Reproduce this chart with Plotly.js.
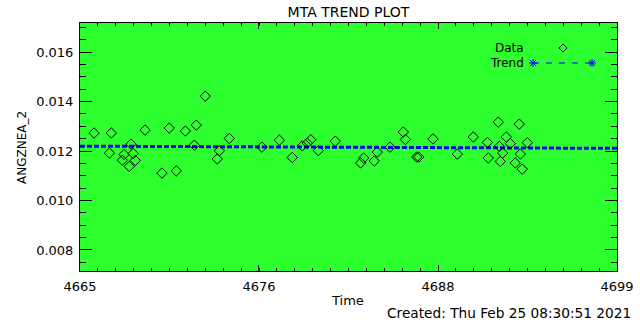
<!DOCTYPE html>
<html>
<head>
<meta charset="utf-8">
<script src="https://cdn.plot.ly/plotly-3.0.1.min.js"></script>
<style>
html,body{margin:0;padding:0;background:#fff;}
#chart{width:640px;height:320px;}
</style>
</head>
<body>
<div id="chart"></div>
<script>
// ---- data ----
const dataX = [4665.89, 4666.98, 4666.86, 4667.79, 4667.68, 4668.23, 4668.37, 4668.50, 4668.12, 4669.12,
  4670.19, 4670.65, 4671.10, 4671.67, 4672.36, 4672.93, 4672.24, 4673.82, 4673.69, 4674.45,
  4676.52, 4677.62, 4678.44, 4679.07, 4679.39, 4679.61, 4680.09, 4681.16, 4682.77, 4682.96,
  4683.63, 4683.82, 4684.63, 4685.47, 4685.60, 4686.32, 4686.45, 4687.35, 4688.89, 4689.90,
  4690.79, 4691.48, 4690.85, 4691.55, 4691.76, 4691.61, 4691.99, 4692.25, 4692.81, 4692.88,
  4692.56, 4693.00, 4693.32];
const dataY = [0.01273, 0.01273, 0.01192, 0.01186, 0.01163, 0.01228, 0.01190, 0.01162, 0.01138, 0.01285,
  0.01111, 0.01293, 0.01120, 0.01281, 0.01305, 0.01422, 0.01224, 0.01201, 0.01168, 0.01251,
  0.01216, 0.01244, 0.01174, 0.01221, 0.01232, 0.01246, 0.01202, 0.01240, 0.01152, 0.01172,
  0.01160, 0.01196, 0.01216, 0.01277, 0.01247, 0.01176, 0.01176, 0.01249, 0.01188, 0.01257,
  0.01235, 0.01317, 0.01172, 0.01219, 0.01192, 0.01158, 0.01257, 0.01230, 0.01309, 0.01188,
  0.01152, 0.01127, 0.01234];
const trendX = [4665, 4699];
const trendY = [0.01220, 0.01211];
const xTickVals = [4665, 4676.333, 4687.667, 4699];
const xTickText = ['4665', '4676', '4688', '4699'];
const yTickVals = [0.008, 0.010, 0.012, 0.014, 0.016];
const yTickText = ['0.008', '0.010', '0.012', '0.014', '0.016'];
const xRange = [4665, 4699];
const yRange = [0.00715, 0.01718];

const FONT = 'DejaVu Sans, Liberation Sans, sans-serif';
const GREEN = '#2eff2e';

const traces = [
  {x: trendX, y: trendY, type: 'scatter', mode: 'lines',
   line: {color: '#0000ff', width: 3, dash: '5px,2px'}, hoverinfo: 'skip'},
  {x: dataX, y: dataY, type: 'scatter', mode: 'markers',
   marker: {symbol: 'diamond-open', size: 8, color: '#000', line: {width: 1, color: '#000'}}}
];

function px2paperX(p){ return (p - 80) / 537; }
function px2paperY(p){ return (271 - p) / 248; }

const asterisk = 'M-4,0 L4,0 M0,-4 L0,4 M-3,-3 L3,3 M-3,3 L3,-3';
const diamond = 'M0,4 L4,0 L0,-4 L-4,0 Z';

function note(text, xp, yp, xanchor, size, extra){
  return Object.assign({text: text, xref: 'paper', yref: 'paper', x: px2paperX(xp), y: px2paperY(yp),
    xanchor: xanchor, yanchor: 'middle', showarrow: false, borderpad: 0,
    font: {family: FONT, size: size, color: '#000'}}, extra || {});
}

const layout = {
  width: 640, height: 320,
  margin: {l: 80, r: 23, t: 23, b: 49},
  paper_bgcolor: '#ffffff',
  plot_bgcolor: GREEN,
  showlegend: false,
  font: {family: FONT, size: 13, color: '#000'},
  title: {text: 'MTA TREND PLOT', font: {family: FONT, size: 14, color: '#000'},
          x: 0.5445, xanchor: 'center', y: 0.963, yanchor: 'middle'},
  xaxis: {range: xRange, showgrid: false, zeroline: false,
          showline: true, linecolor: '#000', linewidth: 1, mirror: 'ticks',
          ticks: 'inside', ticklen: 6, tickcolor: '#000', tickwidth: 1,
          tickmode: 'array', tickvals: xTickVals, ticktext: xTickText,
          ticklabelstandoff: 3,
          tickfont: {family: FONT, size: 13, color: '#000'},
          minor: {tick0: 4665, dtick: 34/30, ticks: 'inside', ticklen: 3, tickcolor: '#000', showgrid: false}},
  yaxis: {range: yRange, showgrid: false, zeroline: false,
          showline: true, linecolor: '#000', linewidth: 1, mirror: 'ticks',
          ticks: 'inside', ticklen: 12, tickcolor: '#000', tickwidth: 1,
          tickmode: 'array', tickvals: yTickVals, ticktext: yTickText,
          ticklabelstandoff: 3,
          tickfont: {family: FONT, size: 13, color: '#000'},
          minor: {tick0: 0.007, dtick: 0.0005, ticks: 'inside', ticklen: 6, tickcolor: '#000', showgrid: false}},
  annotations: [
    note('ANGZNEA_2', 22, 148, 'center', 12, {textangle: -90}),
    note('Time', 347, 300, 'center', 13),
    note('Created: Thu Feb 25 08:30:51 2021', 632, 313, 'right', 13.7),
    note('Data', 525, 48, 'right', 12),
    note('Trend', 525, 63, 'right', 12)
  ],
  shapes: [
    {type: 'path', xref: 'paper', yref: 'paper', xsizemode: 'pixel', ysizemode: 'pixel',
     xanchor: px2paperX(563), yanchor: px2paperY(48), path: diamond, line: {color: '#000', width: 1}},
    {type: 'line', xref: 'paper', yref: 'paper', x0: px2paperX(533), x1: px2paperX(592),
     y0: px2paperY(63), y1: px2paperY(63), line: {color: '#0000ff', width: 1, dash: '6px,7px'}},
    {type: 'path', xref: 'paper', yref: 'paper', xsizemode: 'pixel', ysizemode: 'pixel',
     xanchor: px2paperX(533), yanchor: px2paperY(63), path: asterisk, line: {color: '#0000ff', width: 1}},
    {type: 'path', xref: 'paper', yref: 'paper', xsizemode: 'pixel', ysizemode: 'pixel',
     xanchor: px2paperX(592), yanchor: px2paperY(63), path: asterisk, line: {color: '#0000ff', width: 1}}
  ]
};

Plotly.newPlot('chart', traces, layout, {displayModeBar: false, staticPlot: true});
</script>
</body>
</html>
